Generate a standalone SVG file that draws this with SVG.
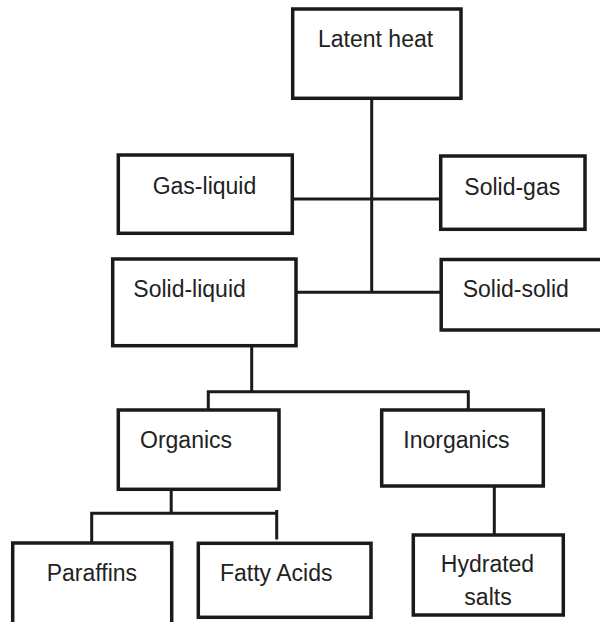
<svg xmlns="http://www.w3.org/2000/svg" width="600" height="622" viewBox="0 0 600 622">
<style>
.box{fill:#fff;stroke:#1a1a1a;stroke-width:3.5}
.ln{fill:none;stroke:#1a1a1a;stroke-width:3}
text{font-family:"Liberation Sans",Arial,sans-serif;font-size:23px;fill:#222}
</style>
<rect width="600" height="622" fill="#fff"/>
<g id="connectors">
<path class="ln" d="M371.7 98 V292.3"/>
<path class="ln" d="M292 199 H441"/>
<path class="ln" d="M296 292.3 H441"/>
<path class="ln" d="M251.7 346 V391.7"/>
<path class="ln" d="M208.3 410 V391.7 H468.3 V410"/>
<path class="ln" d="M171.2 489.5 V513.3"/>
<path class="ln" d="M91.7 543 V513.3 H276.7"/>
<path class="ln" d="M276.7 510 V539.5"/>
<path class="ln" d="M494.3 486 V535"/>
</g>
<g id="latent-heat">
<rect class="box" x="292.7" y="9" width="168.3" height="89.3"/>
<text x="318" y="46.7">Latent heat</text>
</g>
<g id="gas-liquid">
<rect class="box" x="118.3" y="155" width="174" height="78.3"/>
<text x="152.7" y="194">Gas-liquid</text>
</g>
<g id="solid-gas">
<rect class="box" x="440.7" y="156" width="144.3" height="73.3"/>
<text x="464.3" y="195">Solid-gas</text>
</g>
<g id="solid-liquid">
<rect class="box" x="112.7" y="259" width="183.3" height="86.7"/>
<text x="133.3" y="297">Solid-liquid</text>
</g>
<g id="solid-solid">
<rect class="box" x="441.2" y="259.5" width="170" height="70.5"/>
<text x="462.7" y="297">Solid-solid</text>
</g>
<g id="organics">
<rect class="box" x="118.3" y="410" width="160.7" height="79.3"/>
<text x="140" y="448">Organics</text>
</g>
<g id="inorganics">
<rect class="box" x="381.7" y="410" width="161.6" height="76"/>
<text x="403.3" y="448">Inorganics</text>
</g>
<g id="paraffins">
<rect class="box" x="12.7" y="543" width="159" height="90"/>
<text x="46.7" y="581">Paraffins</text>
</g>
<g id="fatty-acids">
<rect class="box" x="198.3" y="543.3" width="172.7" height="74"/>
<text x="220" y="581">Fatty Acids</text>
</g>
<g id="hydrated-salts">
<rect class="box" x="413.3" y="535" width="150" height="80"/>
<text x="487.5" y="571.5" text-anchor="middle">Hydrated</text>
<text x="488" y="605" text-anchor="middle">salts</text>
</g>
</svg>
